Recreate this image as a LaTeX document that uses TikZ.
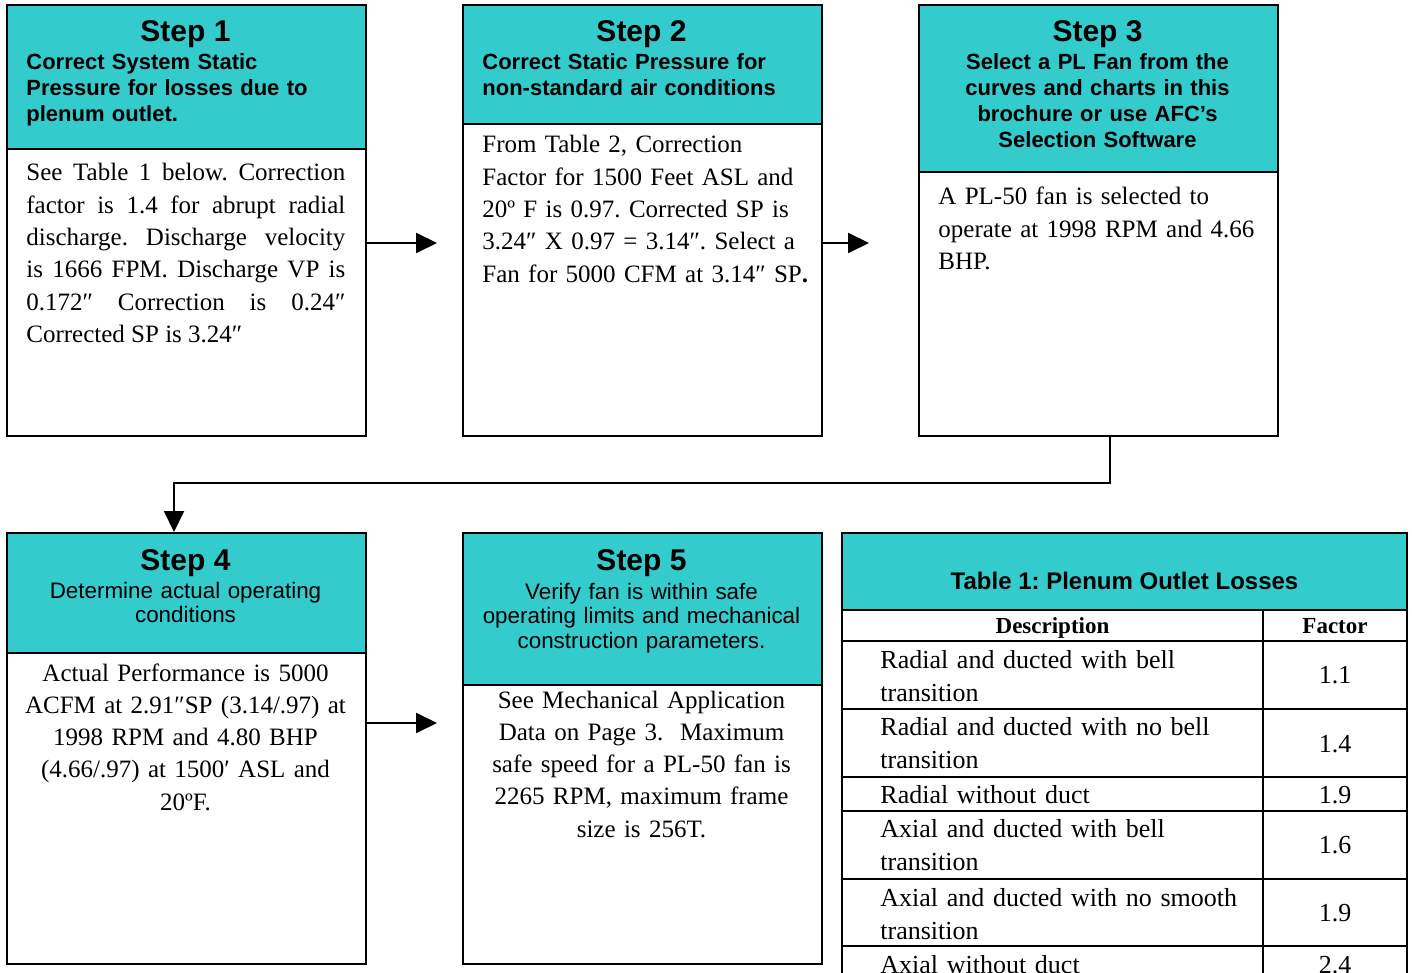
\documentclass[tikz,border=0pt]{standalone}
\usepackage{fontspec}
\setmainfont{Liberation Serif}
\newfontfamily\hsans{Liberation Sans}
\usetikzlibrary{arrows.meta}
\definecolor{teal1}{RGB}{52,203,204}
\begin{document}
\frenchspacing
\begin{tikzpicture}[x=0.5pt,y=-0.5pt,
  frame/.style={draw, line width=1pt, inner sep=0pt, anchor=north west, minimum width=179.5pt, minimum height=215.5pt},
  hdr/.style={draw, fill=teal1, line width=1pt, inner sep=0pt, anchor=north west, minimum width=179.5pt},
  steptitle/.style={font=\hsans\bfseries\fontsize{15}{18}\selectfont, inner sep=0pt, anchor=base},
  subb/.style={font=\hsans\bfseries\fontsize{11}{12.9}\selectfont, inner sep=0pt, anchor=base west, align=left, text width=175pt},
  subbc/.style={subb, anchor=base, align=center},
  subr/.style={font=\hsans\fontsize{11.2}{12.4}\selectfont, inner sep=0pt, anchor=base, align=center, text width=178pt},
  body/.style={font=\fontsize{12.5}{16.15}\selectfont, inner sep=0pt, anchor=base west, align=left, text width=172pt},
  bodyc/.style={body, anchor=base, align=center},
  arr/.style={line width=1pt, -{Triangle[length=10.5pt,width=10pt]}},
  tline/.style={line width=1.3pt},
  tcell/.style={font=\fontsize{13}{16.5}\selectfont, inner sep=0pt, anchor=base west, align=left, text width=190pt},
  tnum/.style={font=\fontsize{13}{16.5}\selectfont, inner sep=0pt, anchor=base},
  thead/.style={font=\bfseries\fontsize{11.5}{14}\selectfont, inner sep=0pt, anchor=base},
  ttitle/.style={font=\hsans\bfseries\fontsize{12}{14}\selectfont, inner sep=0pt, anchor=base}
]
\useasboundingbox (0,0) rectangle (1412,973);

% ---------- Step 1
\node[hdr, minimum height=72pt] (h1) at (6,4) {};
\node[frame] (s1) at (6,4) {};
\node[steptitle] (t1) at (185.5,42) {Step 1};
\node[subb] (u1) at (26,70) {Correct System Static\\Pressure for losses due to\\plenum outlet.};
\node[body, align=justify, text width=159.5pt] (b1) at (26,181) {\hyphenpenalty=10000 See Table 1 below. Correction\linebreak factor is 1.4 for abrupt radial\linebreak discharge. Discharge velocity\linebreak is 1666 FPM. Discharge VP is\linebreak 0.172″ Correction is 0.24″\linebreak Corrected SP is 3.24″};

% ---------- Step 2
\node[hdr, minimum height=59.5pt] (h2) at (462,4) {};
\node[frame] (s2) at (462,4) {};
\node[steptitle] (t2) at (641.5,42) {Step 2};
\node[subb] (u2) at (482,70) {Correct Static Pressure for\\non-standard air conditions};
\node[body] (b2) at (482,153) {From Table 2, Correction\\Factor for 1500 Feet ASL and\\20º F is 0.97. Corrected SP is\\3.24″ X 0.97 = 3.14″. Select a\\Fan for 5000 CFM at 3.14″ SP\textbf{.}};

% ---------- Step 3
\node[hdr, minimum height=83.5pt] (h3) at (918,4) {};
\node[frame] (s3) at (918,4) {};
\node[steptitle] (t3) at (1097.5,42) {Step 3};
\node[subbc] (u3) at (1097.5,70) {Select a PL Fan from the\\curves and charts in this\\brochure or use AFC’s\\Selection Software};
\node[body] (b3) at (938,205) {A PL-50 fan is selected to\\operate at 1998 RPM and 4.66\\BHP.};

% ---------- Step 4
\node[hdr, minimum height=60pt] (h4) at (6,532) {};
\node[frame] (s4) at (6,532) {};
\node[steptitle] (t4) at (185.5,570) {Step 4};
\node[subr] (u4) at (185.5,598) {Determine actual operating\\conditions};
\node[bodyc] (b4) at (185.5,681) {Actual Performance is 5000\\ACFM at 2.91″SP (3.14/.97) at\\1998 RPM and 4.80 BHP\\(4.66/.97) at 1500′ ASL and\\20ºF.};

% ---------- Step 5
\node[hdr, minimum height=76pt] (h5) at (462,532) {};
\node[frame] (s5) at (462,532) {};
\node[steptitle] (t5) at (641.5,570) {Step 5};
\node[subr] (u5) at (641.5,599) {Verify fan is within safe\\operating limits and mechanical\\construction parameters.};
\node[bodyc] (b5) at (641.5,708) {See Mechanical Application\\Data on Page 3.\ \ Maximum\\safe speed for a PL-50 fan is\\2265 RPM, maximum frame\\size is 256T.};

% ---------- connectors
\coordinate (a1) at (437,243);
\coordinate (a2) at (869,243);
\coordinate (a3) at (437,723);
\coordinate (c1) at (1110,483);
\coordinate (c2) at (174,483);
\draw[arr] (s1.east |- a1) -- (a1);
\draw[arr] (s2.east |- a2) -- (a2);
\draw[arr] (s4.east |- a3) -- (a3);
\draw[arr] (s3.south -| c1) -- (c1) -- (c2) -- (s4.north -| c2);

% ---------- Table 1
\fill[teal1] (842,533) rectangle (1407,610);
\draw[tline] (842,1010) -- (842,533) -- (1407,533) -- (1407,1010);
\foreach \yy in {610,641,709,777,811,879,946} \draw[tline] (842,\yy) -- (1407,\yy);
\draw[tline] (1263,610) -- (1263,1010);
\node[ttitle] (tt) at (1124.5,589) {Table 1: Plenum Outlet Losses};
\node[thead] (hd) at (1052.5,633) {Description};
\node[thead] (hf) at (1335,633) {Factor};
\node[tcell] (r1) at (880,668) {Radial and ducted with bell\\transition};
\node[tcell] (r2) at (880,735) {Radial and ducted with no bell\\transition};
\node[tcell] (r3) at (880,803) {Radial without duct};
\node[tcell] (r4) at (880,837) {Axial and ducted with bell\\transition};
\node[tcell] (r5) at (880,906) {Axial and ducted with no smooth\\transition};
\node[tcell] (r6) at (880,973) {Axial without duct};
\node[tnum] (f1) at (1335,683) {1.1};
\node[tnum] (f2) at (1335,752) {1.4};
\node[tnum] (f3) at (1335,803) {1.9};
\node[tnum] (f4) at (1335,853) {1.6};
\node[tnum] (f5) at (1335,921) {1.9};
\node[tnum] (f6) at (1335,973) {2.4};
\end{tikzpicture}
\end{document}
